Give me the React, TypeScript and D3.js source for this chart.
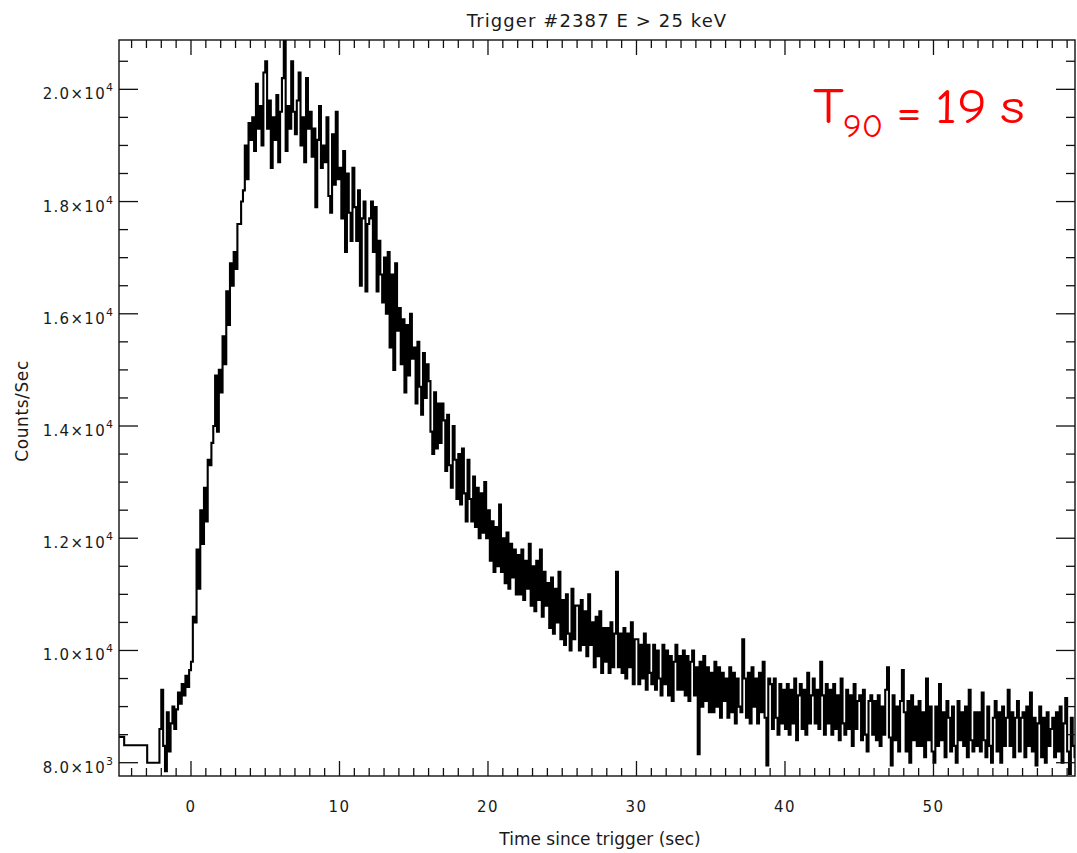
import React from "react";
import * as d3 from "d3";

// ---- data ----
const titleText = "Trigger #2387 E > 25 keV";
const xTitle = "Time since trigger (sec)";
const yTitle = "Counts/Sec";

// coarse pre-trigger bins (start times) and their rates
const preTimes = [-5.5, -4.5, -2.95];
const preCounts = [8460, 8310, 8000];

// fine bins
const fineStart = -2.125;
const fineWidth = 0.125;
const counts = [
  8600,
  9300, 8300, 7850, 8900, 8200, 8700, 9000, 8600,
  8950, 9250, 9050, 9400, 9200, 9550, 9350, 9650,
  9800, 10600, 10500, 11800, 11100, 12500, 11900, 12900,
  12300, 13400, 13300, 13700, 14000, 14900, 13900, 15000,
  14600, 15600, 15100, 16400, 15800, 16900, 16500, 17100,
  16800, 17600, 17600, 18000, 18200, 19000, 18400, 19400,
  19100, 19500, 18900, 20100, 19300, 19700, 19000, 20300,
  20500, 19300, 19800, 18600, 19500, 19100, 19900, 18700,
  19600, 20200, 21000, 18900, 19700, 19300, 20500, 19600,
  19200, 19800, 20300, 19000, 19500, 18700, 20200, 19300,
  19600, 18800, 19300, 17900, 19100, 19700, 18600, 19000,
  18700, 19500, 18100, 17800, 19200, 18300, 19600, 18400,
  18600, 17700, 18900, 17100, 18500, 17800, 17300, 18600,
  17900, 17300, 18200, 16500, 17700, 18000, 16400, 17600,
  17700, 18000, 17100, 17900, 16400, 17300, 16700, 16200,
  17000, 16000, 17100, 15400, 16700, 15000, 16900, 15700,
  16100, 15100, 15900, 14600, 15800, 14900, 16000, 15200,
  15400, 14400, 15500, 14700, 14200, 15300, 14500, 15100,
  14800, 13900, 13500, 14600, 13600, 14400, 13700, 14400,
  14100, 13200, 14200, 13300, 12900, 14000, 13400, 12700,
  13500, 12600, 13600, 12800, 12300, 13400, 12700, 12300,
  13100, 12200, 12900, 12000, 12800, 12100, 13000, 12000,
  12500, 11600, 12300, 11400, 12200, 11500, 12600, 11400,
  12000, 11200, 12100, 11100, 11900, 11300, 11800, 11000,
  11700, 11000, 11800, 10900, 11600, 11100, 11900, 10800,
  11500, 10700, 11600, 10900, 11800, 10600, 11400, 10800,
  11200, 10400, 11300, 10300, 11100, 10500, 11400, 10200,
  10900, 10100, 11000, 10300, 10000, 11100, 10200, 10800,
  10800, 10000, 10900, 10100, 10700, 9900, 11000, 10100,
  10500, 9700, 10600, 9900, 10700, 9600, 10400, 9800,
  10400, 9600, 10500, 9700, 10300, 11400, 9700, 10300,
  9600, 10400, 9500, 10300, 9700, 10500, 9400, 10200,
  10200, 9400, 10100, 9500, 10300, 9300, 10100, 9600,
  9400, 10100, 9300, 10000, 9500, 9200, 10100, 9400,
  10000, 9200, 9900, 9100, 9800, 10100, 9300, 9900,
  9300, 10000, 9200, 9900, 9100, 9800, 10000, 9200,
  9700, 8150, 9800, 9000, 9900, 9100, 9700, 8900,
  9600, 8900, 9800, 9000, 9700, 8800, 9600, 9100,
  9500, 8800, 9700, 8900, 9600, 8700, 9500, 9000,
  8900, 10200, 9500, 8800, 9600, 8700, 9700, 9000,
  9500, 8700, 9600, 8900, 9800, 8800, 7950, 9500,
  9400, 8600, 9500, 8800, 8500, 9400, 8700, 9300,
  8600, 9400, 8500, 9300, 8700, 9500, 8400, 9200,
  9400, 8600, 9300, 8500, 9600, 8700, 9200, 9500,
  8700, 9300, 8600, 9800, 9200, 8500, 9400, 8700,
  9300, 8500, 9400, 8600, 9200, 8400, 9500, 8700,
  8500, 9300, 8600, 9200, 8300, 9400, 8600, 9100,
  9200, 8400, 9300, 8500, 8200, 9100, 9200, 8500,
  9100, 8400, 9200, 8300, 9000, 8500, 9300, 9700,
  8450, 7950, 9200, 8400, 9000, 8200, 9100, 9650,
  8900, 8200, 9100, 8000, 9200, 8400, 9000, 8300,
  9100, 8300, 8900, 8100, 9500, 8400, 9000, 8200,
  8000, 9000, 8300, 9400, 8400, 8900, 8100, 9100,
  8800, 8200, 9000, 8300, 8000, 9100, 8400, 8900,
  8300, 9000, 8100, 9300, 8400, 8200, 8900, 8300,
  8900, 8200, 9250, 8400, 8100, 9000, 8300, 8000,
  8800, 9100, 8200, 8900, 8000, 9000, 8300, 8800,
  9300, 8300, 8900, 8100, 8800, 9100, 8200, 8800,
  8900, 8100, 9000, 8300, 9250, 8200, 8800, 7950,
  8700, 9000, 8100, 8800, 8000, 8900, 8300, 8600,
  8800, 8100, 8900, 8200, 9000, 8000, 8700, 9150,
  8200, 7800, 8800, 8300, 8100, 8800,
];

const xDomain = [-4.848, 59.53];
const yDomain = [7763, 20879];
const xMajorTicks = [0, 10, 20, 30, 40, 50];
const yMajorTicks = [8000, 10000, 12000, 14000, 16000, 18000, 20000];

// ---- layout ----
const W = 1077;
const H = 853;
const L = 119;
const R = 1075;
const T = 40;
const B = 776;

const FONT = "'DejaVu Sans', 'Liberation Sans', sans-serif";
const TXT = "#1a1a1a";

export default function App() {
  const x = d3.scaleLinear().domain(xDomain).range([L, R]);
  const y = d3.scaleLinear().domain(yDomain).range([B, T]);

  const pts: [number, number][] = [];
  preTimes.forEach((t, i) => pts.push([t, preCounts[i]]));
  counts.forEach((c, i) => pts.push([fineStart + i * fineWidth, c]));
  pts.push([fineStart + counts.length * fineWidth, counts[counts.length - 1]]);

  const line = d3
    .line<[number, number]>()
    .x((d) => x(d[0]))
    .y((d) => y(d[1]))
    .curve(d3.curveStepAfter);

  const xMinor = d3.range(Math.ceil(xDomain[0]), Math.floor(xDomain[1]) + 1, 1);
  const yMinor = d3.range(8000, 20501, 500);

  const fmt = (v: number) => {
    const e = Math.floor(Math.log10(v));
    return { m: (v / Math.pow(10, e)).toFixed(1) + "×10", e: String(e) };
  };

  return (
    <svg width={W} height={H} style={{ display: "block", position: "absolute", left: 0, top: 0, background: "#fff" }}>
      <defs>
        <clipPath id="plotclip">
          <rect x={L} y={T} width={R - L} height={B - T} />
        </clipPath>
      </defs>
      <rect x={0} y={0} width={W} height={H} fill="#fff" />

      {/* data */}
      <path
        d={line(pts) || ""}
        fill="none"
        stroke="#000"
        strokeWidth={2.1}
        clipPath="url(#plotclip)"
      />

      {/* frame */}
      <rect x={L} y={T} width={R - L} height={B - T} fill="none" stroke="#111" strokeWidth={1.4} />

      {/* x ticks */}
      {xMinor.map((t) => {
        const major = xMajorTicks.includes(t);
        const len = major ? 15 : 8;
        const px = x(t);
        return (
          <g key={"xt" + t}>
            <line x1={px} x2={px} y1={B} y2={B - len} stroke="#111" strokeWidth={1.3} />
            <line x1={px} x2={px} y1={T} y2={T + len} stroke="#111" strokeWidth={1.3} />
          </g>
        );
      })}
      {xMajorTicks.map((t) => (
        <text
          key={"xl" + t}
          x={x(t)}
          y={812}
          textAnchor="middle"
          fontFamily={FONT}
          fontSize={15}
          letterSpacing={1.5}
          fill={TXT}
        >
          {t}
        </text>
      ))}

      {/* y ticks */}
      {yMinor.map((v) => {
        const major = yMajorTicks.includes(v);
        const len = major ? 19 : 9;
        const py = y(v);
        return (
          <g key={"yt" + v}>
            <line x1={L} x2={L + len} y1={py} y2={py} stroke="#111" strokeWidth={1.3} />
            <line x1={R} x2={R - len} y1={py} y2={py} stroke="#111" strokeWidth={1.3} />
          </g>
        );
      })}
      {yMajorTicks.map((v) => {
        const f = fmt(v);
        return (
          <text
            key={"yl" + v}
            x={113}
            y={y(v) + 10}
            textAnchor="end"
            fontFamily={FONT}
            fontSize={15}
            letterSpacing={1.3}
            fill={TXT}
          >
            <tspan>{f.m}</tspan>
            <tspan dy={-8} fontSize={11} letterSpacing={0}>
              {f.e}
            </tspan>
          </text>
        );
      })}

      {/* titles */}
      <text x={597} y={27} textAnchor="middle" fontFamily={FONT} fontSize={18} letterSpacing={1.1} fill={TXT}>
        {titleText}
      </text>
      <text x={600} y={845} textAnchor="middle" fontFamily={FONT} fontSize={17} fill={TXT}>
        {xTitle}
      </text>
      <text
        transform={`translate(28, 411) rotate(-90)`}
        textAnchor="middle"
        fontFamily={FONT}
        fontSize={17}
        letterSpacing={0.6}
        fill={TXT}
      >
        {yTitle}
      </text>

      {/* annotation */}
      <g fill="#ff0000" fontFamily="'Comic Sans MS', 'Comic Neue', 'DejaVu Sans', sans-serif">
        <text x={813} y={123} fontSize={50} textLength={31} lengthAdjust="spacingAndGlyphs">T</text>
        <text x={843} y={137} fontSize={32} textLength={40} lengthAdjust="spacingAndGlyphs">90</text>
        <text x={896} y={126} fontSize={46} textLength={26} lengthAdjust="spacingAndGlyphs">=</text>
        <text x={935} y={123} fontSize={48} textLength={52} lengthAdjust="spacingAndGlyphs">19</text>
        <text x={1000} y={123} fontSize={48} textLength={25} lengthAdjust="spacingAndGlyphs">s</text>
      </g>
    </svg>
  );
}
